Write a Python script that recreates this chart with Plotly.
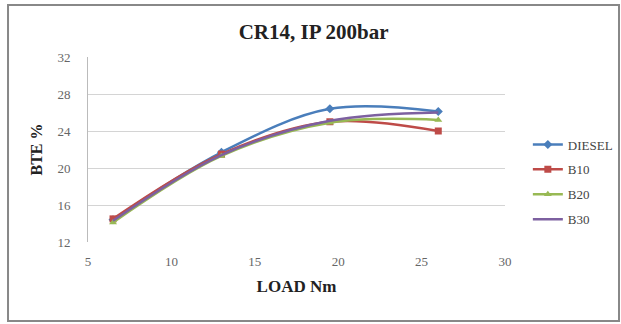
import plotly.graph_objects as go

# Engine load (Nm) and brake thermal efficiency (%) per fuel blend
load = [6.5, 13, 19.5, 26]
diesel = [14.4, 21.7, 26.4, 26.1]
b10 = [14.5, 21.5, 25.0, 24.0]
b20 = [14.1, 21.3, 24.9, 25.2]
b30 = [14.3, 21.4, 25.1, 26.0]

x_ticks = [5, 10, 15, 20, 25, 30]
y_ticks = [12, 16, 20, 24, 28, 32]

serif = "Liberation Serif"

series = [
    ("DIESEL", diesel, "#4A7EBB", "diamond", 7),
    ("B10", b10, "#BE4B48", "square", 7),
    ("B20", b20, "#98B954", "triangle-up", 7),
    ("B30", b30, "#7D60A0", "line-ew", 1),
]

fig = go.Figure()
for name, vals, color, sym, size in series:
    fig.add_trace(go.Scatter(
        x=load, y=vals, name=name, mode="lines+markers",
        line=dict(color=color, width=2.5, shape="spline", smoothing=1.0),
        marker=dict(symbol=sym, size=size, color=color,
                    line=dict(width=0, color=color)),
        legendgroup=name,
    ))

fig.update_layout(
    width=621, height=324,
    margin=dict(l=88, r=116, t=57, b=82, autoexpand=False),
    paper_bgcolor="white", plot_bgcolor="white",
    title=dict(text="<b>CR14, IP 200bar</b>", x=0.505, xanchor="center",
               y=0.901, yanchor="middle",
               font=dict(family=serif, size=21, color="#222222")),
    font=dict(family=serif, color="#555555"),
    legend=dict(xref="container", yref="container",
                x=0.850, xanchor="left", y=1 - 182 / 324, yanchor="middle",
                font=dict(family=serif, size=13, color="#444444"),
                tracegroupgap=5, itemwidth=30, bgcolor="rgba(0,0,0,0)"),
    showlegend=True,
)

fig.update_xaxes(
    range=[5, 30], tickvals=x_ticks, ticktext=[str(v) for v in x_ticks],
    showgrid=False, zeroline=False, showline=False,
    tickfont=dict(family=serif, size=13, color="#666666"), ticks="",
    ticklabelstandoff=10,
    title=dict(text="<b>LOAD Nm</b>", standoff=12,
               font=dict(family=serif, size=17, color="#222222")),
)
fig.update_yaxes(
    range=[12, 32], tickvals=y_ticks, ticktext=[str(v) for v in y_ticks],
    showgrid=True, gridcolor="#D4D4D4", gridwidth=1.3, zeroline=False,
    showline=True, linecolor="#BBBBBB", linewidth=1,
    tickfont=dict(family=serif, size=13, color="#666666"), ticks="",
    ticklabelstandoff=14,
    title=dict(text="<b>BTE %</b>", standoff=10,
               font=dict(family=serif, size=16, color="#222222")),
)

# Chart-area frame
fig.add_shape(type="rect", xref="paper", yref="paper",
              x0=-0.1918, x1=1.2734, y0=-0.427, y1=1.281,
              line=dict(color="#888888", width=2), layer="below")

fig.write_html("out.html")
